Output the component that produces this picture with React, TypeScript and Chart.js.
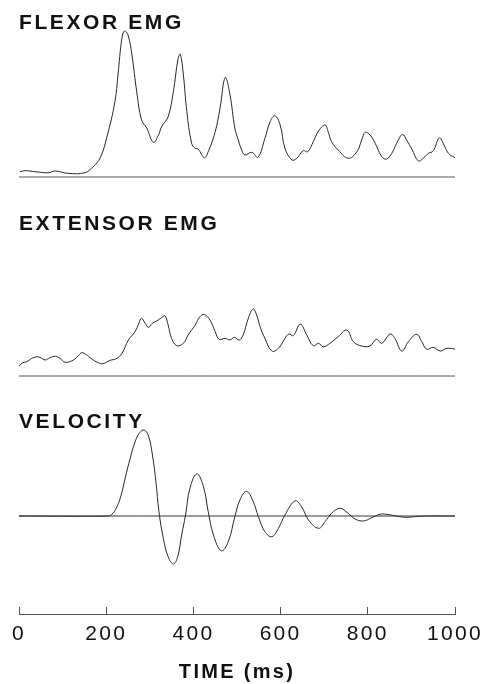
import React, { useEffect, useRef } from "react";
import { Chart, registerables } from "chart.js";

Chart.register(...registerables);

// ---------------- data ----------------
const timeTicks = [0, 200, 400, 600, 800, 1000];

const flexorTime = [
  2, 14, 37, 67, 83, 112, 151, 170, 186, 201, 220, 227, 236, 242, 250, 259, 270, 281, 293, 308,
  320, 327, 342, 354, 365, 370, 377, 385, 396, 404, 411, 425, 434, 450, 461, 473, 484, 495, 503,
  509, 518, 534, 548, 564, 576, 587, 599, 610, 626, 637, 652, 662, 675, 687, 702, 709, 717, 732,
  755, 775, 786, 794, 805, 817, 832, 843, 855, 870, 880, 889, 901, 916, 927, 939, 950, 964, 973,
  985, 1000,
];
const flexorEmg = [
  3.6, 4.3, 3.6, 2.9, 4.1, 2.5, 2.9, 7.0, 12.9, 26.5, 51.2, 69.4, 94.4, 99.3, 96.6, 83.0, 58.0,
  38.8, 33.3, 23.6, 28.6, 34.2, 41.0, 58.0, 80.7, 83.5, 69.4, 44.4, 22.9, 19.5, 19.0, 13.1, 17.2,
  30.8, 46.7, 67.6, 55.8, 33.3, 25.2, 19.7, 15.0, 16.8, 13.4, 26.3, 37.6, 41.7, 35.4, 19.5, 11.6,
  12.7, 17.9, 17.2, 24.0, 31.3, 35.4, 30.8, 24.0, 18.4, 12.7, 17.2, 25.2, 30.4, 28.6, 22.9, 13.8,
  12.2, 16.1, 25.2, 29.0, 25.2, 19.0, 10.9, 12.7, 16.1, 17.7, 26.7, 22.9, 16.1, 13.1,
];

const extensorTime = [
  0, 8, 18, 29, 41, 48, 60, 71, 84, 94, 106, 125, 136, 144, 153, 167, 182, 193, 209, 222, 236,
  251, 266, 275, 281, 289, 297, 306, 316, 327, 335, 342, 350, 362, 377, 388, 404, 415, 425, 438,
  450, 459, 473, 484, 494, 505, 514, 526, 537, 545, 553, 564, 580, 595, 610, 619, 629, 645, 660,
  675, 687, 698, 713, 732, 752, 767, 786, 805, 820, 832, 851, 862, 878, 893, 912, 924, 935, 950,
  966, 981, 1000,
];
const extensorEmg = [
  6.8, 9.0, 9.7, 12.0, 13.1, 12.7, 10.9, 12.4, 13.4, 12.0, 9.3, 10.9, 13.8, 15.9, 14.8, 11.6, 9.0,
  8.4, 10.7, 11.6, 15.4, 24.5, 30.1, 35.9, 39.3, 35.9, 33.1, 35.9, 37.4, 39.7, 40.8, 34.7, 25.6,
  20.6, 22.2, 27.9, 34.7, 40.3, 41.8, 38.1, 30.1, 25.0, 25.6, 24.5, 26.3, 24.5, 27.9, 39.3, 45.6,
  41.5, 33.5, 25.6, 17.0, 18.8, 25.6, 28.6, 27.4, 35.2, 27.9, 20.6, 22.2, 19.9, 22.2, 26.7, 31.3,
  23.3, 20.4, 20.4, 25.0, 22.2, 28.6, 25.6, 17.0, 23.3, 28.4, 23.3, 18.2, 19.5, 17.0, 18.8, 18.4,
];

const velocityTime = [
  0, 205, 213, 222, 233, 244, 255, 266, 277, 287, 297, 306, 314, 321, 331, 342, 354, 364, 373, 382,
  392, 408, 423, 434, 446, 464, 480, 495, 507, 522, 537, 549, 564, 580, 595, 610, 633, 648, 664,
  687, 702, 717, 736, 755, 771, 790, 809, 828, 843, 862, 885, 908, 931, 970, 1000,
];
const velocity = [
  0, 0, 2.0, 8.0, 22.0, 45.0, 67.1, 86.0, 97.0, 100, 93.0, 71.0, 40.0, 5.0, -25.9, -47.3, -55.8,
  -47.3, -22.1, 1.2, 32.2, 49.0, 34.1, 5.0, -22.1, -40.5, -29.9, -0.8, 19.0, 28.6, 17.0, -0.8,
  -18.3, -24.1, -14.3, 1.2, 17.6, 10.8, -4.7, -14.3, -6.6, 3.1, 9.0, 3.1, -3.5, -5.8, -2.0, 2.0,
  2.0, 0.3, -1.5, -0.8, 0, 0, 0,
];

const baselineTime = [0, 1000];
const baselineValue = [0, 0];

const panelTitles = ["FLEXOR EMG", "EXTENSOR EMG", "VELOCITY"];
const axisTitle = "TIME (ms)";

// ---------------- helpers ----------------
const zip = (t: number[], v: number[]) => t.map((x, i) => ({ x, y: v[i] }));

const PLOT_TOP = 0;
const PLOT_BOTTOM = 614;
// range of a hidden y scale so that its zero lands at zeroPx with pxPerUnit scaling
function band(zeroPx: number, pxPerUnit: number) {
  const max = (zeroPx - PLOT_TOP) / pxPerUnit;
  return { min: max - (PLOT_BOTTOM - PLOT_TOP) / pxPerUnit, max };
}

const FONT = '"Liberation Sans", Arial, Helvetica, sans-serif';
const TRACE = "#262626";

const spacingPlugin = {
  id: "spacing",
  beforeUpdate(chart: any) {
    chart.ctx.letterSpacing = "2.3px";
  },
  beforeDraw(chart: any) {
    chart.ctx.letterSpacing = "2.3px";
  },
};

const titlesPlugin = {
  id: "panelTitles",
  afterDraw(chart: any) {
    const ctx = chart.ctx;
    const baselines = [29, 230, 428];
    ctx.save();
    ctx.font = `bold 21px ${FONT}`;
    ctx.letterSpacing = "2.6px";
    ctx.fillStyle = "#111";
    ctx.textAlign = "left";
    ctx.textBaseline = "alphabetic";
    panelTitles.forEach((t, i) => ctx.fillText(t, chart.chartArea.left, baselines[i]));
    ctx.restore();
  },
};

export default function App() {
  const canvasRef = useRef<HTMLCanvasElement | null>(null);

  useEffect(() => {
    if (!canvasRef.current) return;
    const lineDs = (label: string, data: any[], yAxisID: string, color = TRACE) => ({
      label,
      data,
      yAxisID,
      borderColor: color,
      borderWidth: 1,
      pointRadius: 0,
      fill: false,
      tension: 0.4,
    });

    const chart = new Chart(canvasRef.current, {
      type: "line",
      data: {
        datasets: [
          lineDs("Flexor baseline", zip(baselineTime, baselineValue), "yF", "#555"),
          lineDs("Extensor baseline", zip(baselineTime, baselineValue), "yE", "#555"),
          lineDs("Velocity zero", zip(baselineTime, baselineValue), "yV", "#333"),
          lineDs("Flexor EMG", zip(flexorTime, flexorEmg), "yF"),
          lineDs("Extensor EMG", zip(extensorTime, extensorEmg), "yE"),
          lineDs("Velocity", zip(velocityTime, velocity), "yV"),
        ],
      },
      plugins: [spacingPlugin, titlesPlugin],
      options: {
        animation: false,
        responsive: true,
        maintainAspectRatio: false,
        layout: { padding: { left: 19, right: 27, top: PLOT_TOP, bottom: 0 } },
        plugins: { legend: { display: false }, tooltip: { enabled: false } },
        font: { family: FONT },
        scales: {
          x: {
            type: "linear",
            min: 0,
            max: 1000,
            afterBuildTicks: (scale: any) => {
              scale.ticks = timeTicks.map((v) => ({ value: v }));
            },
            afterFit: (scale: any) => {
              scale.height = 684 - PLOT_BOTTOM;
              scale.paddingLeft = 0;
              scale.paddingRight = 0;
            },
            ticks: {
              padding: 15,
              color: "#111",
              font: { family: FONT, size: 21 },
              maxRotation: 0,
              autoSkip: false,
              callback: (v: any) => String(v),
            },
            grid: {
              drawOnChartArea: false,
              drawTicks: true,
              tickLength: -7,
              color: "#555",
              lineWidth: 1,
            },
            border: { display: true, color: "#555", width: 1 },
            title: {
              display: true,
              text: axisTitle,
              color: "#111",
              font: { family: FONT, size: 20, weight: "bold" },
              padding: { top: 0, bottom: 0 },
            },
          },
          yF: { type: "linear", display: false, ...band(177, 1.47) },
          yE: { type: "linear", display: false, ...band(376, 1.47) },
          yV: { type: "linear", display: false, ...band(516, 0.86) },
        },
      } as any,
    });
    return () => chart.destroy();
  }, []);

  return (
    <div style={{ position: "absolute", left: 0, top: 0, width: 482, height: 684, background: "#fff" }}>
      <canvas ref={canvasRef} />
    </div>
  );
}
